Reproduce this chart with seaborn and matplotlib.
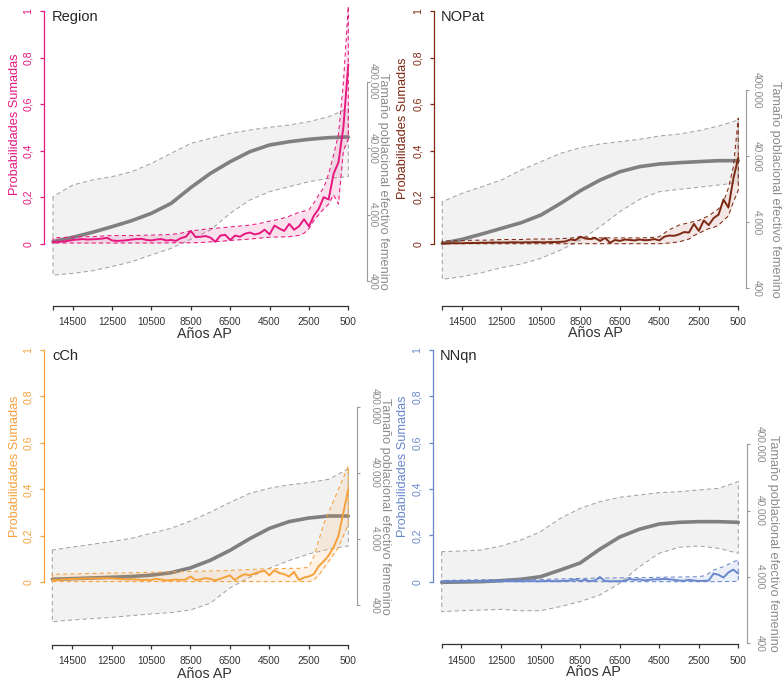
import numpy as np
import matplotlib
matplotlib.use("Agg")
import matplotlib.pyplot as plt
import seaborn as sns
from matplotlib.ticker import NullLocator

sns.set_theme(style="white")
plt.rcParams["font.family"] = ["Liberation Sans", "DejaVu Sans"]

# ---------------- data ----------------
YEARS_POP = list(range(15500, 499, -1000))          # population curve (16)
YEARS_SPD = list(range(15500, 499, -250))           # summed probabilities (61)
YEARS_BAND = list(range(15500, 2999, -500)) + list(range(2750, 499, -250))  # envelope (36)

POP_TICKS = [400, 4000, 40000, 400000]
POP_TICK_LABELS = ["400", "4.000", "40.000", "400.000"]
PROB_TICKS = [0, 0.2, 0.4, 0.6, 0.8, 1]
PROB_TICK_LABELS = ["0", "0,2", "0,4", "0,6", "0,8", "1"]
X_TICKS = [15500, 14500, 12500, 10500, 8500, 6500, 4500, 2500, 500]
X_TICK_LABELS = ["", "14500", "12500", "10500", "8500", "6500", "4500", "2500", "500"]

PANELS = ["Region", "NOPat", "cCh", "NNqn"]

REGION_POP_MID = [1560, 1820, 2160, 2630, 3240, 4180, 5900, 10200, 16700, 25000, 35400, 44600, 50000, 54300, 57500, 58900]
REGION_POP_HI = [7440, 11150, 13250, 14880, 17700, 23600, 33400, 47200, 56200, 66900, 75000, 82300, 89200, 100000, 119000, 158800]
REGION_POP_LO = [490, 520, 570, 660, 780, 990, 1240, 1700, 2340, 4180, 6620, 8850, 10500, 12500, 14000, 14900]

NOPAT_POP_MID = [1915, 2200, 2650, 3230, 3935, 5140, 7720, 12000, 17400, 23200, 27700, 30400, 31800, 33000, 34100, 34100]
NOPAT_POP_HI = [8180, 10930, 13790, 17400, 24700, 33000, 44000, 53700, 61000, 66100, 71800, 80600, 86300, 97000, 114100, 140600]
NOPAT_POP_LO = [547, 600, 690, 820, 932, 1136, 1517, 2152, 3423, 5770, 8870, 11590, 12570, 13480, 14620, 15850]

CCH_POP_MID = [990, 1010, 1035, 1060, 1090, 1140, 1240, 1470, 1910, 2700, 4050, 5800, 7350, 8330, 8930, 8930]
CCH_POP_HI = [2740, 3030, 3330, 3680, 4100, 4900, 5800, 7500, 10200, 14300, 19600, 23500, 26400, 28600, 32000, 46000]
CCH_POP_LO = [226, 240, 251, 263, 279, 296, 310, 340, 430, 730, 1060, 1450, 1900, 2380, 2810, 3150]

NNQN_POP_MID = [3320, 3360, 3400, 3520, 3690, 4040, 5090, 6500, 10500, 16000, 21000, 25150, 26650, 27290, 27290, 26650]
NNQN_POP_HI = [9620, 9850, 10200, 11720, 14430, 19280, 30620, 43300, 54600, 63500, 68900, 74600, 77300, 81900, 86800, 109400]
NNQN_POP_LO = [1200, 1240, 1270, 1300, 1240, 1240, 1430, 1700, 2140, 3210, 5720, 9090, 11190, 11720, 10810, 9090]

REGION_SPD = [0.006, 0.008, 0.009, 0.012, 0.016, 0.018, 0.020, 0.018, 0.019, 0.020, 0.022, 0.025,
              0.014, 0.012, 0.013, 0.015, 0.018, 0.020, 0.021, 0.016, 0.014, 0.018, 0.020, 0.014,
              0.016, 0.012, 0.024, 0.030, 0.055, 0.028, 0.030, 0.033, 0.026, 0.008, 0.035, 0.038,
              0.016, 0.035, 0.030, 0.043, 0.048, 0.040, 0.045, 0.060, 0.040, 0.078, 0.065, 0.055,
              0.085, 0.060, 0.075, 0.105, 0.075, 0.120, 0.150, 0.200, 0.190, 0.300, 0.350, 0.500, 0.770]
REGION_HI = [0.025, 0.027, 0.028, 0.030, 0.030, 0.033, 0.035, 0.035, 0.035, 0.036, 0.037, 0.038, 0.040,
             0.045, 0.055, 0.060, 0.065, 0.068, 0.072, 0.076, 0.080, 0.087, 0.097, 0.105, 0.118, 0.135,
             0.140, 0.145, 0.175, 0.210, 0.240, 0.300, 0.380, 0.470, 0.690, 1.020]
REGION_LO = [0.003, 0.003, 0.003, 0.003, 0.003, 0.003, 0.003, 0.003, 0.003, 0.003, 0.003, 0.003, 0.004,
             0.004, 0.004, 0.005, 0.008, 0.010, 0.014, 0.017, 0.020, 0.024, 0.028, 0.029, 0.030, 0.036,
             0.045, 0.065, 0.100, 0.125, 0.150, 0.170, 0.210, 0.170, 0.400, 0.450]

NOPAT_SPD = [0.001, 0.001, 0.002, 0.002, 0.002, 0.003, 0.003, 0.003, 0.004, 0.004, 0.005, 0.005,
             0.005, 0.005, 0.006, 0.006, 0.005, 0.006, 0.006, 0.007, 0.006, 0.006, 0.007, 0.007,
             0.008, 0.010, 0.018, 0.015, 0.030, 0.022, 0.020, 0.024, 0.012, 0.025, 0.004, 0.016,
             0.012, 0.018, 0.016, 0.014, 0.018, 0.015, 0.016, 0.020, 0.014, 0.030, 0.035, 0.034,
             0.040, 0.050, 0.048, 0.085, 0.055, 0.100, 0.080, 0.110, 0.125, 0.190, 0.155, 0.280, 0.370]
NOPAT_HI = [0.012, 0.012, 0.013, 0.015, 0.015, 0.016, 0.018, 0.018, 0.018, 0.020, 0.020, 0.020, 0.022,
            0.024, 0.030, 0.028, 0.025, 0.025, 0.025, 0.025, 0.025, 0.026, 0.030, 0.060, 0.080, 0.090,
            0.095, 0.100, 0.110, 0.120, 0.135, 0.150, 0.180, 0.240, 0.330, 0.540]
NOPAT_LO = [0.0, 0.0, 0.0, 0.0, 0.0, 0.0, 0.0, 0.0, 0.0, 0.0, 0.0, 0.0, 0.0,
            0.0, 0.0, 0.0, 0.0, 0.0, 0.0, 0.0, 0.0, 0.0, 0.0, 0.003, 0.008, 0.020,
            0.035, 0.045, 0.055, 0.065, 0.070, 0.080, 0.100, 0.120, 0.180, 0.230]

CCH_SPD = [0.010, 0.010, 0.012, 0.013, 0.014, 0.015, 0.016, 0.016, 0.017, 0.017, 0.018, 0.018,
           0.017, 0.015, 0.014, 0.012, 0.013, 0.012, 0.010, 0.011, 0.010, 0.015, 0.012, 0.008,
           0.010, 0.012, 0.010, 0.012, 0.025, 0.010, 0.012, 0.018, 0.015, 0.008, 0.015, 0.022,
           0.030, 0.010, 0.025, 0.035, 0.030, 0.038, 0.045, 0.050, 0.030, 0.052, 0.040, 0.035,
           0.025, 0.045, 0.010, 0.020, 0.025, 0.035, 0.070, 0.090, 0.115, 0.150, 0.200, 0.300, 0.400]
CCH_HI = [0.035, 0.035, 0.036, 0.037, 0.038, 0.039, 0.040, 0.040, 0.041, 0.042, 0.043, 0.044, 0.045,
          0.046, 0.047, 0.048, 0.049, 0.050, 0.051, 0.053, 0.055, 0.057, 0.058, 0.059, 0.060, 0.060,
          0.062, 0.065, 0.110, 0.180, 0.250, 0.300, 0.350, 0.400, 0.450, 0.500]
CCH_LO = [0.003, 0.003, 0.003, 0.003, 0.003, 0.003, 0.003, 0.003, 0.003, 0.003, 0.003, 0.003, 0.003,
          0.003, 0.003, 0.003, 0.003, 0.003, 0.003, 0.003, 0.003, 0.003, 0.003, 0.003, 0.003, 0.003,
          0.003, 0.003, 0.010, 0.030, 0.060, 0.090, 0.120, 0.150, 0.200, 0.250]

NNQN_SPD = [0.001, 0.001, 0.001, 0.001, 0.001, 0.002, 0.002, 0.002, 0.002, 0.003, 0.002, 0.002,
            0.002, 0.003, 0.002, 0.002, 0.002, 0.002, 0.003, 0.002, 0.002, 0.003, 0.003, 0.002,
            0.003, 0.004, 0.005, 0.010, 0.003, 0.008, 0.002, 0.005, 0.020, 0.003, 0.002, 0.002,
            0.002, 0.003, 0.012, 0.008, 0.010, 0.006, 0.008, 0.010, 0.010, 0.012, 0.010, 0.008,
            0.005, 0.004, 0.008, 0.005, 0.003, 0.004, 0.005, 0.035, 0.030, 0.018, 0.040, 0.052, 0.035]
NNQN_HI = [0.005, 0.006, 0.007, 0.008, 0.008, 0.009, 0.009, 0.010, 0.010, 0.010, 0.010, 0.011, 0.012,
           0.013, 0.014, 0.015, 0.016, 0.016, 0.017, 0.017, 0.018, 0.018, 0.019, 0.020, 0.020, 0.021,
           0.021, 0.022, 0.025, 0.035, 0.050, 0.058, 0.065, 0.075, 0.085, 0.095]
NNQN_LO = [0.0] * 30 + [0.0, 0.0, 0.001, 0.001, 0.001, 0.002]

SERIES = {
    "Region": dict(pop=(REGION_POP_LO, REGION_POP_MID, REGION_POP_HI), spd=REGION_SPD, band=(REGION_LO, REGION_HI)),
    "NOPat": dict(pop=(NOPAT_POP_LO, NOPAT_POP_MID, NOPAT_POP_HI), spd=NOPAT_SPD, band=(NOPAT_LO, NOPAT_HI)),
    "cCh": dict(pop=(CCH_POP_LO, CCH_POP_MID, CCH_POP_HI), spd=CCH_SPD, band=(CCH_LO, CCH_HI)),
    "NNqn": dict(pop=(NNQN_POP_LO, NNQN_POP_MID, NNQN_POP_HI), spd=NNQN_SPD, band=(NNQN_LO, NNQN_HI)),
}

# ---------------- styling / layout (pixels) ----------------
COLORS = {"Region": "#E6177F", "NOPat": "#7D2812", "cCh": "#F5A13C", "NNqn": "#6A87CC"}
FILLS = {"Region": "#E6177F", "NOPat": "#9B4A30", "cCh": "#F5A13C", "NNqn": "#6A87CC"}

LAYOUT = {
    "Region": dict(lx=44, rx=366.7, x0=53, x1=348.3, y1=11, y0=243.7, xax=306, pk=81.7, p4=281,
                   tx=51.5, ty=17, ylx=15, ylc=124, rtx=373.3, rttx=383.3, xlx=204.5, xly=334),
    "NOPat": dict(lx=434.3, rx=746, x0=442.3, x1=738.3, y1=11, y0=243.7, xax=306, pk=90, p4=288.3,
                  tx=440.7, ty=17, ylx=403.3, ylc=128, rtx=756.7, rttx=775, xlx=595, xly=333),
    "cCh": dict(lx=44.3, rx=357, x0=52.3, x1=348.3, y1=350, y0=582.3, xax=645, pk=406.7, p4=605.3,
                tx=52, ty=355.7, ylx=15, ylc=466.7, rtx=375, rttx=385, xlx=204.5, xly=674),
    "NNqn": dict(lx=433.3, rx=746.7, x0=441.7, x1=738.3, y1=350, y0=581.7, xax=644, pk=444.3, p4=643.3,
                 tx=440, ty=355.7, ylx=403, ylc=466.7, rtx=760, rttx=773.3, xlx=593, xly=672.5),
}

W, H = 784, 680
PX2PT = 72.0 / 100.0
fig = plt.figure(figsize=(W / 100, H / 100), dpi=100)
fig.patch.set_facecolor("white")


def fx(x):
    return x / W


def fy(y):
    return 1 - y / H


GRAY_LINE = "#808080"
GRAY_EDGE = "#A3A3A3"
GRAY_FILL = "#F2F2F2"
AXIS_GRAY = "#9A9A9A"
DASH = (0, (4, 3))

for name in PANELS:
    L = LAYOUT[name]
    S = SERIES[name]
    col = COLORS[name]
    k = (L["x1"] - L["x0"]) / 15000.0
    xl = 15500 + (L["x0"] - L["lx"]) / k
    xr = 500 - (L["rx"] - L["x1"]) / k
    top = L["y1"] - 6
    bot = L["xax"]
    s = L["y0"] - L["y1"]
    ylo = -(bot - L["y0"]) / s
    yhi = 1 + (L["y1"] - top) / s
    d = (L["p4"] - L["pk"]) / 3.0
    ptop = 400000 * 10 ** ((L["pk"] - top) / d)
    pbot = 400 / 10 ** ((bot - L["p4"]) / d)
    rect = [fx(L["lx"]), fy(bot), fx(L["rx"]) - fx(L["lx"]), fy(top) - fy(bot)]

    # population axis (log, right) underneath
    axp = fig.add_axes(rect)
    axp.set_facecolor("white")
    axp.set_yscale("log")
    lo, mid, hi = S["pop"]
    axp.fill_between(YEARS_POP, lo, hi, facecolor=GRAY_FILL, edgecolor=GRAY_EDGE,
                     linestyle=DASH, linewidth=0.75, zorder=1)
    sns.lineplot(x=YEARS_POP, y=mid, ax=axp, color=GRAY_LINE, linewidth=2.6, sort=False, zorder=2)
    axp.set_xlim(xl, xr)
    axp.set_ylim(pbot, ptop)
    for sp in ["top", "left", "bottom"]:
        axp.spines[sp].set_visible(False)
    axp.spines["right"].set_visible(True)
    axp.spines["right"].set_color(AXIS_GRAY)
    axp.spines["right"].set_linewidth(0.8)
    axp.spines["right"].set_bounds(400, 400000)
    axp.set_xticks([])
    axp.yaxis.tick_right()
    axp.yaxis.set_minor_locator(NullLocator())
    axp.set_yticks(POP_TICKS)
    axp.set_yticklabels(POP_TICK_LABELS, rotation=270, ha="center", va="center")
    axp.tick_params(axis="y", which="major", right=True, left=False, direction="out",
                    length=3 * PX2PT, width=0.8, color=AXIS_GRAY, labelcolor="#8C8C8C",
                    labelsize=7.3, pad=(L["rtx"] - L["rx"] - 3) * PX2PT)
    axp.set_xlabel("")
    axp.set_ylabel("")
    axp.grid(False)

    # summed probability axis (linear, left) on top
    axs = fig.add_axes(rect)
    axs.set_facecolor("none")
    blo, bhi = S["band"]
    axs.fill_between(YEARS_BAND, blo, bhi, facecolor=FILLS[name], alpha=0.13, linewidth=0, zorder=1)
    axs.fill_between(YEARS_BAND, blo, bhi, facecolor="none", edgecolor=col,
                     linestyle=DASH, linewidth=0.75, zorder=2)
    sns.lineplot(x=YEARS_SPD, y=S["spd"], ax=axs, color=col, linewidth=1.4, sort=False, zorder=3)
    axs.set_xlim(xl, xr)
    axs.set_ylim(ylo, yhi)
    for sp in ["top", "right"]:
        axs.spines[sp].set_visible(False)
    axs.spines["left"].set_color(col)
    axs.spines["left"].set_linewidth(0.9)
    axs.spines["left"].set_bounds(0, 1)
    axs.spines["bottom"].set_color("#333333")
    axs.spines["bottom"].set_linewidth(0.9)
    axs.spines["bottom"].set_bounds(15500, 500)
    axs.set_yticks(PROB_TICKS)
    axs.set_yticklabels(PROB_TICK_LABELS, rotation=90, ha="center", va="center")
    axs.tick_params(axis="y", left=True, direction="out", length=4 * PX2PT, width=0.9,
                    color=col, labelcolor=col, labelsize=7.6,
                    pad=(15.7 - 4) * PX2PT)
    axs.set_xticks(X_TICKS)
    axs.set_xticklabels(X_TICK_LABELS, va="center")
    axs.tick_params(axis="x", bottom=True, direction="out", length=4 * PX2PT, width=0.9,
                    color="#333333", labelcolor="#333333", labelsize=7.3,
                    pad=(16.5 - 4) * PX2PT)
    axs.set_xlabel("")
    axs.set_ylabel("")
    axs.grid(False)

    # texts
    fig.text(fx(L["tx"]), fy(L["ty"]), name, ha="left", va="center", fontsize=10.5, color="#262626")
    fig.text(fx(L["ylx"]), fy(L["ylc"]), "Probabilidades Sumadas", rotation=90, ha="center",
             va="center", fontsize=9.2, color=col)
    fig.text(fx(L["rttx"]), fy((L["pk"] + L["p4"]) / 2), "Tamaño poblacional efectivo femenino",
             rotation=270, ha="center", va="center", fontsize=9.2, color="#8C8C8C")
    fig.text(fx(L["xlx"]), fy(L["xly"]), "Años AP", ha="center", va="center", fontsize=10.3,
             color="#333333")

fig.savefig("out.png", dpi=100, facecolor="white")
